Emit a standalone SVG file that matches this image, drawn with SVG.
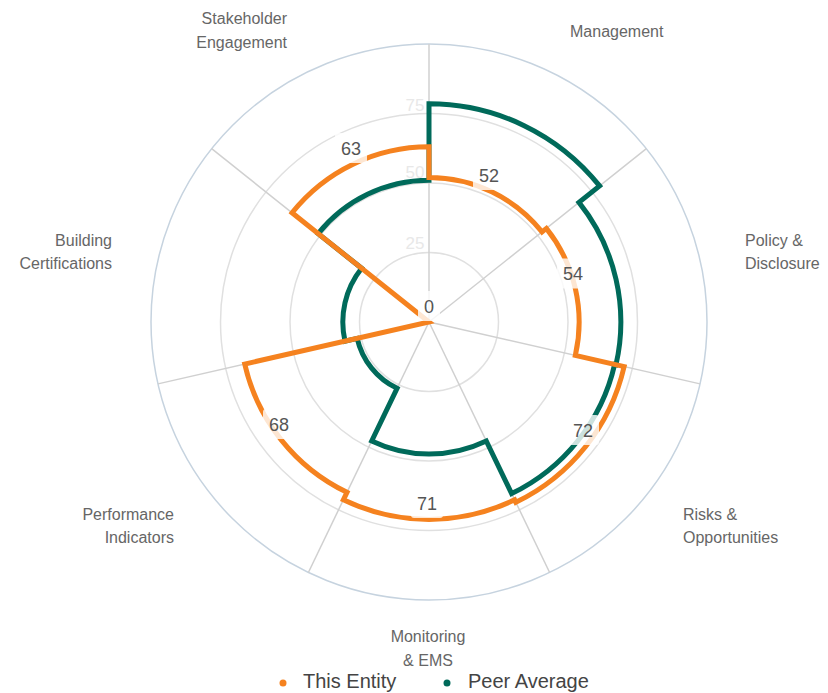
<svg xmlns="http://www.w3.org/2000/svg" width="828" height="693" viewBox="0 0 828 693">
  <style>
    .grid { fill: none; stroke: #e0e0e0; stroke-width: 1.5; }
    .outer { fill: none; stroke: #c6d3df; stroke-width: 1.5; }
    .spoke { stroke: #d0d0d0; stroke-width: 1.5; }
    .tick { font-family: "Liberation Sans", Arial, sans-serif; font-size: 17px; fill: #e8e8e8; text-anchor: middle; }
    .cat { font-family: "Liberation Sans", Arial, sans-serif; font-size: 16px; fill: #666666; }
    .val { font-family: "Liberation Sans", Arial, sans-serif; font-size: 18px; fill: #555555; text-anchor: middle; }
    .valbg { fill: #ffffff; fill-opacity: 0.8; }
    .leg { font-family: "Liberation Sans", Arial, sans-serif; font-size: 20px; fill: #444444; }
    .series { fill: none; stroke-width: 5; stroke-linejoin: miter; }
  </style>
  <rect width="828" height="693" fill="#ffffff"/>

  <g id="grid">
    <circle class="grid" cx="429" cy="322" r="69.5"/>
    <circle class="grid" cx="429" cy="322" r="139"/>
    <circle class="grid" cx="429" cy="322" r="208.5"/>
    <circle class="outer" cx="429" cy="322" r="278"/>
    <line class="spoke" x1="429" y1="322" x2="429" y2="44"/>
    <line class="spoke" x1="429" y1="322" x2="646.35" y2="148.67"/>
    <line class="spoke" x1="429" y1="322" x2="700.03" y2="383.86"/>
    <line class="spoke" x1="429" y1="322" x2="549.62" y2="572.47"/>
    <line class="spoke" x1="429" y1="322" x2="308.38" y2="572.47"/>
    <line class="spoke" x1="429" y1="322" x2="157.97" y2="383.86"/>
    <line class="spoke" x1="429" y1="322" x2="211.65" y2="148.67"/>
    <text class="tick" x="415" y="249">25</text>
    <text class="tick" x="415" y="178">50</text>
    <text class="tick" x="415" y="111">75</text>
  </g>

  <g id="connectors">
    <path id="peer-average" class="series" stroke="#006a5a" d="M429,103.77 A218.23,218.23 0 0 1 599.62,185.93 L578.97,202.4 A191.82,191.82 0 0 1 616.01,364.68 L614.65,364.37 A190.43,190.43 0 0 1 511.62,493.57 L486.29,440.97 A132.05,132.05 0 0 1 371.71,440.97 L397.04,388.37 A73.67,73.67 0 0 1 357.18,338.39 L344.98,341.18 A86.18,86.18 0 0 1 361.62,268.27 L318.15,233.6 A141.78,141.78 0 0 1 429,180.22 Z"/>
    <path id="this-entity" class="series" stroke="#f5821f" d="M429,177.44 A144.56,144.56 0 0 1 542.02,231.87 L546.37,228.4 A150.12,150.12 0 0 1 575.36,355.4 L624.14,366.54 A200.16,200.16 0 0 1 515.85,502.34 L514.64,499.83 A197.38,197.38 0 0 1 343.36,499.83 L346.98,492.32 A189.04,189.04 0 0 1 244.7,364.06 L429,322 L292.07,212.8 A175.14,175.14 0 0 1 429,146.86 Z"/>
  </g>

  <g id="value-labels">
    <g id="val-management"><rect class="valbg" x="473" y="160" width="32" height="30" rx="3"/><text class="val" x="489" y="181.5">52</text></g>
    <g id="val-policy"><rect class="valbg" x="557" y="258.5" width="32" height="30" rx="3"/><text class="val" x="573" y="280">54</text></g>
    <g id="val-risks"><rect class="valbg" x="567" y="415" width="32" height="30" rx="3"/><text class="val" x="583" y="436.5">72</text></g>
    <g id="val-monitoring"><rect class="valbg" x="411" y="488" width="32" height="30" rx="3"/><text class="val" x="427" y="509.5">71</text></g>
    <g id="val-performance"><rect class="valbg" x="263" y="409" width="32" height="30" rx="3"/><text class="val" x="279" y="430.5">68</text></g>
    <g id="val-building"><rect class="valbg" x="418" y="291" width="22" height="30" rx="3"/><text class="val" x="429" y="312.5">0</text></g>
    <g id="val-stakeholder"><rect class="valbg" x="335" y="133" width="32" height="30" rx="3"/><text class="val" x="351" y="154.5">63</text></g>
  </g>

  <g id="category-labels">
    <g id="cat-management"><text class="cat" x="570" y="37">Management</text></g>
    <g id="cat-policy"><text class="cat" x="745" y="246">Policy &amp;</text><text class="cat" x="745" y="269">Disclosure</text></g>
    <g id="cat-risks"><text class="cat" x="683" y="520">Risks &amp;</text><text class="cat" x="683" y="543">Opportunities</text></g>
    <g id="cat-monitoring"><text class="cat" x="428" y="642" text-anchor="middle">Monitoring</text><text class="cat" x="428" y="666" text-anchor="middle">&amp; EMS</text></g>
    <g id="cat-performance"><text class="cat" x="174" y="520" text-anchor="end">Performance</text><text class="cat" x="174" y="543" text-anchor="end">Indicators</text></g>
    <g id="cat-building"><text class="cat" x="112" y="246" text-anchor="end">Building</text><text class="cat" x="112" y="269" text-anchor="end">Certifications</text></g>
    <g id="cat-stakeholder"><text class="cat" x="287" y="24" text-anchor="end">Stakeholder</text><text class="cat" x="287" y="48" text-anchor="end">Engagement</text></g>
  </g>

  <g id="legend">
    <g id="legend-entity"><circle cx="283" cy="683" r="3.5" fill="#f5821f"/><text class="leg" x="303" y="688">This Entity</text></g>
    <g id="legend-peer"><circle cx="447" cy="683" r="3.5" fill="#006a5a"/><text class="leg" x="468" y="688">Peer Average</text></g>
  </g>
</svg>
